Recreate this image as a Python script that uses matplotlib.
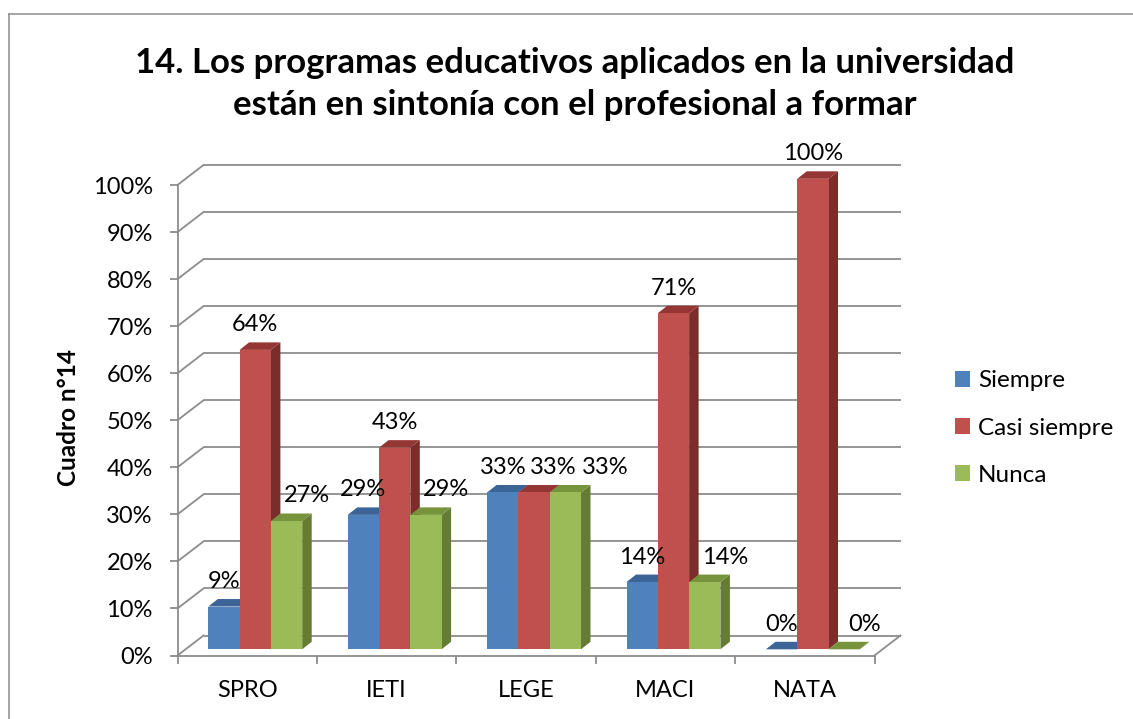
import matplotlib
matplotlib.use("Agg")
import matplotlib.pyplot as plt
from matplotlib.patches import Polygon, Patch
from matplotlib.lines import Line2D
import matplotlib.ticker as mticker

# ---------------- data ----------------
categories = ["SPRO", "IETI", "LEGE", "MACI", "NATA"]
series_names = ["Siempre", "Casi siempre", "Nunca"]
siempre = [9.09, 28.57, 33.33, 14.29, 0.0]
casi_siempre = [63.64, 42.86, 33.33, 71.43, 100.0]
nunca = [27.27, 28.57, 33.33, 14.29, 0.0]
y_ticks = [0, 10, 20, 30, 40, 50, 60, 70, 80, 90, 100]
title = "14. Los programas educativos aplicados en la universidad\nestán en sintonía con el profesional a formar"
y_label = "Cuadro n°14"

# ---------------- style ----------------
plt.rcParams['font.family'] = ['Lato', 'DejaVu Sans']
front_cols = ["#4F81BD", "#C0504D", "#9BBB59"]
top_cols = ["#3C6496", "#943634", "#77933C"]
side_cols = ["#385D8A", "#7A2E2C", "#667C35"]
grid_col = "#8C8C8C"
FS = 17

W, H = 1133, 719
fig = plt.figure(figsize=(W / 100, H / 100), dpi=100)
fig.patch.set_facecolor("white")

# front plane of the 3D box
left_px, right_px, bot_px, top_px = 177.5, 874.5, 655.5, 185.0
ax = fig.add_axes([left_px / W, 1 - bot_px / H, (right_px - left_px) / W, (bot_px - top_px) / H])
ax.set_xlim(0, len(categories))
ax.set_ylim(0, 100)
ax.patch.set_visible(False)

px_x = (right_px - left_px) / len(categories)   # px per category
px_y = (bot_px - top_px) / 100.0                # px per percent

DX = 26.0 / px_x      # depth of the box (data units)
DY = 20.0 / px_y
f0 = 0.31             # bar front position in depth fraction
bdx = 9.5 / px_x      # bar depth
bdy = 7.5 / px_y
w = 31.3 / px_x       # bar width
gap = (1 - 3 * w) / 2

# back wall gridlines and side wall diagonals
for v in y_ticks:
    ax.plot([DX, len(categories) + DX], [v + DY, v + DY], color=grid_col, lw=1.3,
            clip_on=False, zorder=1, solid_capstyle='butt')
    ax.plot([0, DX], [v, v + DY], color=grid_col, lw=1.3, clip_on=False, zorder=1)
# floor right edge
ax.plot([len(categories), len(categories) + DX], [0, DY], color=grid_col, lw=1.3,
        clip_on=False, zorder=1)

# spines / ticks
for s in ["top", "right"]:
    ax.spines[s].set_visible(False)
for s in ["left", "bottom"]:
    ax.spines[s].set_color(grid_col)
    ax.spines[s].set_linewidth(1.3)
    ax.spines[s].set_zorder(2)
ax.set_yticks(y_ticks)
ax.yaxis.set_major_formatter(mticker.FuncFormatter(lambda v, p: f"{int(v)}%"))
ax.tick_params(axis='y', direction='out', length=5.8, width=1.3, color=grid_col,
               labelsize=FS, pad=12)
ax.set_xticks([i + 0.5 for i in range(len(categories))])
ax.set_xticklabels(categories)
ax.set_xticks(list(range(len(categories) + 1)), minor=True)
ax.tick_params(axis='x', which='major', length=0, labelsize=FS, pad=17.5)
ax.tick_params(axis='x', which='minor', direction='out', length=5.8, width=1.3, color=grid_col)

# bars
values = [siempre, casi_siempre, nunca]
label_shift_px = [[0, 0, 20], [0, 0, 20], [0, 19, 40], [0, 0, 20], [0, 0, 20]]
for i in range(len(categories)):
    for s in range(3):
        v = values[s][i]
        x0 = i + gap + s * w + f0 * DX
        y0 = f0 * DY
        z = 3 + i * 10 + s * 3
        side = Polygon([(x0 + w, y0), (x0 + w + bdx, y0 + bdy), (x0 + w + bdx, y0 + v + bdy),
                        (x0 + w, y0 + v)], closed=True, facecolor=side_cols[s], edgecolor='none',
                       zorder=z, clip_on=False)
        top = Polygon([(x0, y0 + v), (x0 + w, y0 + v), (x0 + w + bdx, y0 + v + bdy),
                       (x0 + bdx, y0 + v + bdy)], closed=True, facecolor=top_cols[s],
                      edgecolor='none', zorder=z + 1, clip_on=False)
        ax.add_patch(side)
        ax.add_patch(top)
        ax.bar(x0, v, width=w, bottom=y0, align='edge', color=front_cols[s], edgecolor='none',
               zorder=z + 2, clip_on=False)
        ax.annotate(f"{round(v):d}%", xy=(x0 + w / 2, y0 + v), xytext=(label_shift_px[i][s] * 0.72, 18.5 * 0.72),
                    textcoords='offset points', ha='center', va='baseline', fontsize=FS,
                    zorder=50, annotation_clip=False)

# legend
handles = [Patch(facecolor=c, edgecolor='none') for c in front_cols]
fig.legend(handles, series_names, loc='center left', bbox_to_anchor=(955 / W, 1 - 428 / H),
           frameon=False, fontsize=FS + 0.5, handlelength=0.62, handleheight=0.62,
           handletextpad=0.33, labelspacing=1.08, borderpad=0, borderaxespad=0)

# title and y label
fig.text(575 / W, 1 - 84 / H, title, ha='center', va='center', fontsize=25, fontweight='bold',
         linespacing=1.42)
fig.text(68 / W, 1 - 418 / H, y_label, ha='center', va='center', rotation=90, fontsize=17.5,
         fontweight='bold')

# outer border
fig.add_artist(Line2D([8.5 / W, 8.5 / W], [0, 1 - 13.5 / H], transform=fig.transFigure,
                      color="#8A8A8A", lw=1.1))
fig.add_artist(Line2D([8.5 / W, 1], [1 - 13.5 / H, 1 - 13.5 / H], transform=fig.transFigure,
                      color="#8A8A8A", lw=1.1))

fig.savefig("out.png", dpi=100)
